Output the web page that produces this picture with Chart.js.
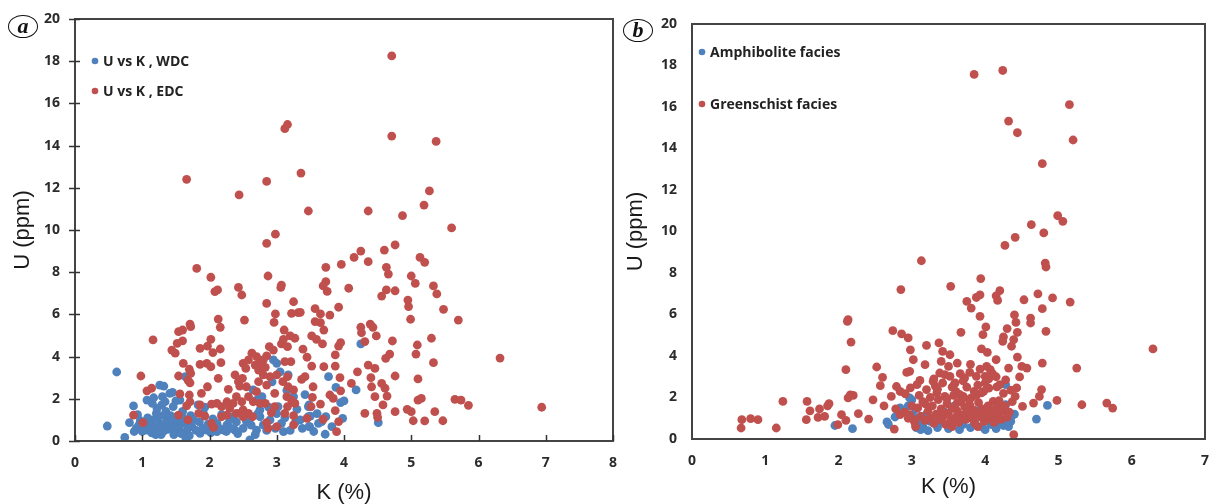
<!DOCTYPE html>
<html>
<head>
<meta charset="utf-8">
<script src="https://cdn.jsdelivr.net/npm/chart.js@4.4.0/dist/chart.umd.min.js"></script>
<style>
  body { margin: 0; background: #fff; width: 1214px; height: 504px; overflow: hidden; position: relative; }
  .box { position: absolute; top: 0; height: 504px; }
  .tag { position: absolute; width: 28px; height: 21px; border: 1.5px solid #111; border-radius: 50%;
         font: italic bold 22px "Liberation Serif", serif; color: #111; text-align: center; line-height: 19px; }
</style>
</head>
<body>
<div class="box" style="left:0;width:620px"><canvas id="chartA" width="620" height="504"></canvas></div>
<div class="box" style="left:620px;width:594px"><canvas id="chartB" width="594" height="504"></canvas></div>
<div class="tag" style="left:8px;top:15px">a</div>
<div class="tag" style="left:623px;top:19px">b</div>
<script>
// ---- data (a) : WDC / EDC
var wdcK = [0.62,0.48,0.74,0.87,0.81,0.91,0.97,1.07,1.14,1.16,1.15,1.26,1.3,1.29,1.21,1.26,1.31,1.36,1.41,1.46,1.44,1.51,1.51,1.64,1.66,1.65,1.74,1.76,1.64,1.83,1.96,1.91,2.11,2.21,2.26,2.38,2.3,2.35,2.55,2.6,2.7,2.75,2.8,2.65,2.7,2.75,2.95,3.0,3.05,3.17,3.25,3.02,3.07,3.1,3.35,3.49,3.47,3.62,1.86,1.07,1.34,1.56,1.59,2.11,2.45,
  4.25,3.77,3.88,4.18,3.95,4.0,3.48,3.47,3.5,3.73,3.67,3.98,3.48,3.82,3.72,4.51,
  0.95,1.0,1.03,1.1,1.12,1.18,1.2,1.22,1.24,1.28,1.33,1.35,1.38,1.4,1.42,1.47,1.48,1.53,1.55,1.58,1.6,1.62,1.68,1.7,1.72,1.8,1.85,1.9,1.93,1.98,2.02,2.05,2.15,2.18,2.25,2.32,2.4,2.42,2.5,2.58,2.62,2.68,2.72,2.78,2.85,2.88,2.9,2.93,2.98,3.0,3.12,3.15,3.2,3.28,3.3,3.38,3.42,3.55,3.6,1.17,1.22,1.32,1.45,1.5,1.25,1.08,0.88,0.93];
var wdcU = [3.27,0.71,0.17,1.66,0.87,0.6,0.96,0.52,0.39,1.0,1.78,2.65,2.1,1.71,1.31,0.84,0.44,1.07,2.26,1.63,0.68,1.15,0.44,0.84,0.44,0.12,0.68,1.0,3.05,1.71,0.52,1.31,0.84,0.52,0.76,0.52,1.0,1.15,0.92,0.05,0.52,1.15,0.76,2.42,1.94,1.47,3.84,3.68,3.28,3.13,2.1,1.63,0.84,0.44,1.0,0.68,1.63,0.84,0.36,1.94,1.86,1.94,1.15,0.44,1.31,
  4.6,3.05,2.54,2.42,1.82,1.9,1.71,1.15,1.18,1.15,0.92,1.07,0.68,0.68,0.32,0.87,
  0.75,0.45,0.65,0.8,0.55,0.62,0.3,1.05,0.5,0.3,0.7,1.4,0.55,0.9,1.2,0.3,0.95,0.8,0.6,0.35,1.4,0.95,0.6,0.25,1.2,0.5,0.9,0.6,1.6,0.8,0.4,1.05,0.6,1.25,0.45,0.6,0.9,0.35,0.6,1.1,0.75,0.3,1.3,2.1,0.5,1.6,1.0,2.8,0.6,1.3,1.1,2.4,0.5,0.9,1.5,0.6,2.2,0.45,1.3,2.05,1.55,2.6,2.3,1.9,1.2,1.1,0.45,1.25];
var edcK = [1.66,2.44,2.85,3.12,3.16,3.36,3.47,2.98,2.85,4.71,4.71,5.37,5.27,5.19,4.36,4.87,5.6,4.76,4.25,4.6,
  4.15,5.13,5.2,3.73,3.96,4.36,4.63,4.66,5.0,5.06,5.33,5.38,3.73,3.69,3.75,4.07,4.63,4.76,4.56,4.95,4.96,5.48,4.99,5.7,3.92,3.57,3.65,3.79,3.35,3.57,3.65,3.7,4.25,4.26,4.39,4.43,4.48,4.31,4.72,5.3,5.09,5.07,4.68,4.62,5.33,6.32,3.52,3.59,3.68,3.39,3.45,3.52,3.7,3.87,3.87,3.92,3.95,3.42,3.37,4.36,4.46,4.2,4.76,5.1,3.94,4.4,4.11,4.56,4.41,4.61,3.54,3.95,4.64,4.46,3.53,3.79,3.84,5.1,5.15,5.65,5.74,5.85,6.94,4.58,3.65,3.51,3.87,4.31,4.49,4.5,4.76,4.94,5.0,5.35,5.03,5.2,5.47,3.45,3.69,3.92,3.89,
  1.81,2.02,2.08,2.12,2.43,2.48,2.87,3.07,3.06,2.13,2.16,2.52,2.85,2.98,2.96,3.25,3.22,3.32,3.11,3.1,3.2,3.27,3.07,3.16,3.21,3.12,3.0,3.09,3.16,3.17,3.25,3.15,3.22,3.27,3.16,3.12,3.25,3.25,
  2.89,2.95,2.85,2.8,2.63,2.7,2.5,2.54,2.58,2.68,2.75,2.73,2.83,2.9,2.8,2.73,2.85,2.7,2.58,2.65,2.75,2.83,2.97,2.97,2.92,2.85,2.87,3.0,2.49,2.43,2.38,2.45,2.55,2.4,2.48,2.35,2.26,2.3,2.18,2.11,2.03,2.28,2.5,2.4,2.26,2.58,2.64,2.5,2.18,
  2.13,2.17,2.16,2.05,2.02,1.97,1.96,2.02,1.86,1.86,1.97,1.88,1.86,1.84,1.93,2.03,2.06,1.7,1.71,1.66,1.68,1.72,1.71,1.6,1.54,1.6,1.52,1.44,1.49,1.61,1.7,1.72,1.68,1.71,1.54,1.56,1.54,1.16,0.98,1.07,1.14,0.87,1.01];
var edcU = [12.4,11.66,12.3,14.8,15.0,12.7,10.9,9.8,9.37,18.25,14.45,14.2,11.85,11.18,10.9,10.68,10.1,9.29,9.0,9.05,
  8.7,8.7,8.47,8.23,8.37,8.5,8.23,7.91,7.82,7.47,7.35,6.97,7.55,7.35,7.09,7.24,7.16,7.12,6.87,6.68,6.37,6.24,5.77,5.73,6.34,6.27,6.02,5.97,6.1,5.66,5.61,5.26,5.39,5.13,5.54,5.39,4.98,4.71,4.74,4.87,4.55,4.12,4.12,3.92,3.71,3.93,4.98,4.82,4.6,4.35,3.97,3.55,3.52,3.55,4.08,4.5,4.66,3.05,2.92,3.6,3.44,3.28,3.08,2.94,3.0,3.0,2.73,2.73,2.57,2.5,2.57,2.38,2.13,2.1,2.07,2.18,2.02,1.94,2.02,1.97,1.94,1.69,1.6,1.71,1.75,1.63,1.44,1.31,1.31,1.12,1.39,1.5,1.39,1.39,0.96,0.95,0.96,1.07,1.03,0.92,0.44,
  8.18,7.76,7.08,7.16,7.28,6.92,7.82,7.39,7.28,5.78,5.39,5.73,6.52,6.02,5.62,6.6,6.05,6.08,5.26,4.82,4.98,4.87,4.6,4.47,3.76,3.76,3.13,2.81,3.05,2.57,2.42,2.1,1.94,1.78,1.63,1.31,1.2,0.76,
  4.47,4.31,4.03,3.84,4.16,4.0,3.68,3.44,3.84,3.6,3.68,3.36,3.49,3.05,3.13,2.81,2.65,2.34,2.1,1.86,1.78,1.78,2.26,1.63,1.34,0.87,0.6,0.68,2.97,2.81,3.13,2.6,2.57,2.1,1.86,1.78,1.86,1.55,1.63,1.78,1.75,2.45,1.47,1.31,1.23,1.31,1.15,1.15,1.15,
  2.97,3.71,4.36,4.19,4.82,4.5,3.68,3.52,3.63,4.39,2.57,2.26,1.71,1.31,1.18,0.83,0.65,2.18,1.86,1.66,1.0,5.42,5.54,5.26,5.18,4.75,4.63,4.31,4.16,3.68,3.4,3.21,2.89,2.76,3.08,2.23,1.23,4.79,3.08,2.38,2.5,1.23,0.87];

// ---- data (b) : Amphibolite / Greenschist
var amK = [1.95,2.19,2.66,2.68,3.0,2.84,2.77,3.06,2.97,4.28,4.85,4.7,4.37,4.28,
  2.9,2.95,3.02,3.05,3.1,3.12,3.15,3.2,3.22,3.25,3.3,3.35,3.4,3.45,3.5,3.55,3.6,3.65,3.7,3.75,3.8,3.85,3.9,3.95,4.0,4.02,4.08,4.12,4.15,4.2,4.25,4.3,4.32,4.35,3.58,4.4];
var amU = [0.65,0.5,0.82,0.7,1.89,1.5,1.06,0.55,1.98,2.62,1.62,0.96,1.14,1.65,
  1.3,1.6,1.1,1.45,0.75,0.45,0.6,1.2,0.4,0.85,1.05,0.55,0.8,1.3,0.5,0.75,1.0,0.45,0.7,1.15,0.55,0.85,1.35,0.6,0.45,0.95,0.7,1.2,0.5,0.85,0.65,1.0,0.6,0.85,1.6,1.2];
var gsK = [3.85,4.24,5.15,4.32,4.44,5.2,4.78,4.99,5.06,4.63,4.8,4.41,4.27,
  3.13,4.82,4.83,3.94,3.53,4.2,3.93,3.88,4.15,4.17,3.75,3.81,4.53,4.72,4.92,5.16,4.78,3.93,4.4,4.42,4.62,4.62,4.3,4.44,4.01,3.97,4.83,3.67,4.25,4.39,4.24,4.36,3.37,3.2,2.98,3.42,3.52,3.95,4.03,3.02,3.4,3.62,3.18,3.5,4.78,5.25,4.44,4.15,4.32,4.5,4.57,3.93,4.07,2.93,3.38,3.52,3.66,3.79,3.72,4.47,3.88,4.0,3.11,3.29,3.42,3.59,4.0,4.16,4.2,4.43,4.41,4.74,4.77,4.66,4.98,4.51,5.32,5.66,5.74,6.29,4.39,3.2,3.34,3.7,3.81,3.95,4.11,4.2,
  2.85,2.12,2.13,2.17,2.74,2.86,2.95,2.97,2.1,2.52,2.6,2.57,2.79,2.84,2.91,2.72,2.98,3.07,2.16,2.13,2.2,2.47,2.62,2.78,2.84,2.9,2.97,3.02,3.04,2.76,2.04,2.1,1.99,2.27,2.41,1.87,1.85,1.74,1.81,1.72,1.61,1.57,1.56,1.24,1.15,0.9,0.8,0.68,0.67,
  3.08,3.12,3.15,3.18,3.22,3.25,3.28,3.3,3.33,3.36,3.38,3.4,3.43,3.46,3.48,3.5,3.53,3.55,3.57,3.6,3.62,3.64,3.67,3.69,3.72,3.74,3.77,3.79,3.82,3.84,3.86,3.89,3.91,3.94,3.96,3.99,4.02,4.04,4.06,4.09,4.12,4.14,4.17,4.19,4.22,4.24,4.27,4.3,4.33,3.35,3.45,3.6,3.75,3.85,4.05,4.25,3.25,3.1,4.37,4.35,3.0,2.95,3.05,3.55,3.9,
  3.3,3.45,3.55,3.7,3.8,3.9,4.05,4.15,3.65,3.48,3.58,3.78,3.98,4.1,4.28,3.32,3.62,3.88,4.02,3.18,3.42];
var gsU = [17.57,17.76,16.11,15.32,14.76,14.41,13.27,10.76,10.49,10.33,9.93,9.72,9.33,
  8.59,8.48,8.29,7.73,7.36,7.15,6.95,6.82,6.9,6.68,6.63,6.31,6.71,6.99,6.8,6.6,6.28,5.91,5.98,5.62,5.83,5.59,5.32,5.14,5.4,5.03,5.19,5.14,4.92,4.79,4.71,4.47,4.63,4.51,4.3,4.22,4.06,4.34,4.17,3.82,3.74,3.66,3.58,3.5,3.66,3.42,3.95,3.82,3.42,3.5,3.42,3.37,3.34,3.21,3.18,3.02,3.15,3.21,2.94,2.99,3.02,3.02,2.82,2.78,2.7,2.7,2.7,2.51,2.62,2.46,2.05,2.05,2.38,1.73,1.86,1.57,1.65,1.73,1.49,4.34,0.21,2.38,2.22,2.05,1.98,2.22,1.81,1.57,
  7.2,5.67,5.75,4.67,5.22,5.07,4.87,3.26,3.34,3.47,2.97,2.57,2.53,2.29,2.18,2.05,2.46,2.62,2.13,1.98,2.1,1.89,1.6,1.45,1.17,1.3,1.17,0.93,0.8,0.48,1.17,0.9,0.69,1.22,0.96,1.7,1.6,1.45,1.09,1.04,1.36,1.81,0.93,1.81,0.53,0.93,0.98,0.93,0.53,
  1.5,1.1,1.8,0.9,1.35,1.0,1.6,0.75,1.2,1.9,0.95,1.45,1.1,0.7,1.7,1.25,0.9,1.5,2.1,1.05,1.35,0.8,1.8,1.15,1.55,0.95,1.3,1.65,1.0,1.4,0.75,1.2,1.75,1.05,1.45,0.85,1.3,1.6,1.0,1.25,0.8,1.45,1.1,1.85,0.95,1.35,1.6,1.05,1.3,2.4,2.05,2.3,2.5,2.3,2.45,2.2,2.0,2.1,1.8,2.35,1.6,1.0,0.6,0.6,0.6,
  2.9,3.1,2.5,2.8,3.6,2.6,2.9,3.0,2.15,1.95,2.65,1.9,2.3,3.15,2.85,2.55,1.75,2.1,3.5,1.7,1.3];

var blue = '#4f81bd', red = '#c0504d';
var tickFont = { family: 'Open Sans', weight: 'bold', size: 14 };
var titleFont = { family: 'Liberation Sans', size: 22, lineHeight: 1 };

function pts(xs, ys) {
  var out = [];
  for (var i = 0; i < xs.length; i++) out.push({ x: xs[i], y: ys[i] });
  return out;
}

// box round the plot, tick marks and the legend inside the plot
var framePlugin = {
  id: 'frame',
  afterDraw: function (chart, args, opts) {
    var a = chart.chartArea, ctx = chart.ctx;
    ctx.save();
    ctx.strokeStyle = '#444';
    ctx.lineWidth = 2;
    ctx.strokeRect(a.left, a.top, a.right - a.left, a.bottom - a.top);
    if (opts.marks) {
      var xs = chart.scales.x, ys = chart.scales.y;
      ctx.lineWidth = 1.5;
      ctx.strokeStyle = '#333';
      ctx.beginPath();
      xs.ticks.forEach(function (t) {
        var px = Math.round(xs.getPixelForValue(t.value)) + 0.5;
        ctx.moveTo(px, a.bottom);
        ctx.lineTo(px, a.bottom - 6);
      });
      ys.ticks.forEach(function (t) {
        var py = Math.round(ys.getPixelForValue(t.value)) + 0.5;
        ctx.moveTo(a.left - 6, py);
        ctx.lineTo(a.left + 5, py);
      });
      ctx.stroke();
    }
    // legend
    ctx.font = 'bold 14px "Open Sans"';
    ctx.textBaseline = 'middle';
    opts.legend.forEach(function (item) {
      var ds = chart.data.datasets[item.ds];
      ctx.fillStyle = ds.backgroundColor;
      ctx.beginPath();
      ctx.arc(a.left + item.dx, a.top + item.dy, 3.3, 0, Math.PI * 2);
      ctx.fill();
      ctx.fillStyle = '#222';
      ctx.fillText(ds.label, a.left + item.dx + 8, a.top + item.dy + 1);
    });
    ctx.restore();
  }
};

function makeChart(id, sets, xMax, opts) {
  return new Chart(document.getElementById(id), {
    type: 'scatter',
    data: { datasets: sets },
    plugins: [framePlugin],
    options: {
      responsive: false,
      animation: false,
      events: [],
      layout: { padding: { left: 0, top: opts.top, right: opts.right, bottom: 0 } },
      plugins: {
        legend: { display: false },
        tooltip: { enabled: false },
        frame: { marks: opts.marks, legend: opts.legend }
      },
      scales: {
        x: {
          type: 'linear', min: 0, max: xMax,
          ticks: { stepSize: 1, font: tickFont, color: '#2b2b2b', padding: 2 },
          // invisible tick lines only keep the labels clear of the axis
          grid: { drawOnChartArea: false, drawTicks: true, tickLength: 12, color: 'rgba(0,0,0,0)' },
          border: { color: '#333', width: 2 },
          title: { display: true, text: 'K (%)', font: titleFont, color: '#1a1a1a', padding: { top: 0, bottom: opts.xTitlePad } },
          afterFit: function (s) { s.height = opts.xH; }
        },
        y: {
          type: 'linear', min: 0, max: 20,
          ticks: { stepSize: 2, font: tickFont, color: '#2b2b2b', padding: 3 },
          grid: { drawOnChartArea: false, drawTicks: true, tickLength: 12, color: 'rgba(0,0,0,0)' },
          border: { color: '#333', width: 2 },
          title: { display: true, text: 'U (ppm)', font: titleFont, color: '#1a1a1a', padding: { top: opts.yTitlePad, bottom: 0 } },
          afterFit: function (s) { s.width = opts.yW; }
        }
      }
    }
  });
}

makeChart('chartA', [
  { label: 'U vs K , WDC', data: pts(wdcK, wdcU), backgroundColor: blue, borderWidth: 0, pointRadius: 4.4, order: 1 },
  { label: 'U vs K , EDC', data: pts(edcK, edcU), backgroundColor: red, borderWidth: 0, pointRadius: 4.4, order: 0 }
], 8, { top: 19, right: 7, xH: 63, yW: 75, marks: true,
        xTitlePad: 0, yTitlePad: 12, legend: [{ ds: 0, dx: 20, dy: 42 }, { ds: 1, dx: 20, dy: 72 }] });

makeChart('chartB', [
  { label: 'Amphibolite facies', data: pts(amK, amU), backgroundColor: blue, borderWidth: 0, pointRadius: 4.4, order: 1 },
  { label: 'Greenschist facies', data: pts(gsK, gsU), backgroundColor: red, borderWidth: 0, pointRadius: 4.4, order: 0 }
], 7, { top: 24, right: 9, xH: 65, yW: 72, marks: false,
        xTitlePad: 6, yTitlePad: 5, legend: [{ ds: 0, dx: 10, dy: 28 }, { ds: 1, dx: 10, dy: 80 }] });
</script>
</body>
</html>
